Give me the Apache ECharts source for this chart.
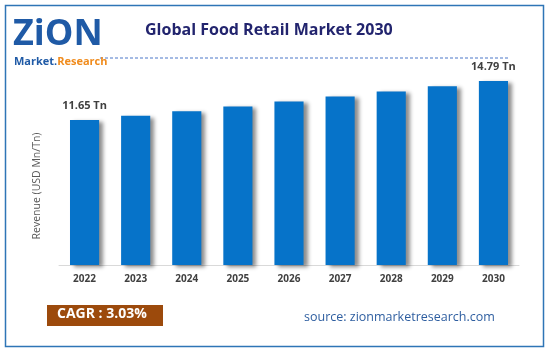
<!DOCTYPE html>
<html><head><meta charset="utf-8">
<script src="https://cdn.jsdelivr.net/npm/echarts@6/dist/echarts.min.js"></script>
<style>html,body{margin:0;padding:0;background:#fff}#c{width:551px;height:354px}</style>
</head><body><div id="c"></div>
<script>
const years = ['2022','2023','2024','2025','2026','2027','2028','2029','2030'];
const revenue = [11.65, 12.0, 12.37, 12.75, 13.15, 13.55, 13.95, 14.37, 14.79];
const labelTexts = {0: '11.65 Tn', 8: '14.79 Tn'};
const titleText = 'Global Food Retail Market 2030';
const yAxisTitle = 'Revenue (USD Mn/Tn)';
const cagrText = 'CAGR : 3.03%';
const sourceText = 'source: zionmarketresearch.com';

const chart = echarts.init(document.getElementById('c'), null, {renderer: 'canvas'});
chart.setOption({
  animation: false,
  grid: {left: 59, right: 32, top: 66, bottom: 89},
  xAxis: {
    type: 'category', data: years,
    axisLine: {lineStyle: {color: '#d9d9d9', width: 1}},
    axisTick: {show: false},
    axisLabel: {color: '#404040', fontFamily: 'Open Sans', fontWeight: 'bold', fontSize: 10, margin: 9}
  },
  yAxis: {
    type: 'value', min: 0, max: 16,
    axisLine: {show: false}, axisTick: {show: false}, axisLabel: {show: false},
    splitLine: {show: false}
  },
  series: [{
    type: 'bar', data: revenue, barWidth: '57%',
    itemStyle: {color: '#0673c9', shadowColor: 'rgba(0,0,0,0.45)', shadowBlur: 4, shadowOffsetX: 4, shadowOffsetY: 2},
    label: {
      show: true, position: 'top', distance: 9,
      color: '#404040', fontFamily: 'Open Sans', fontWeight: 'bold', fontSize: 11,
      formatter: p => labelTexts[p.dataIndex] || ''
    }
  }],
  graphic: [
    {type: 'rect', shape: {x: 5.5, y: 5.5, width: 538, height: 341}, style: {fill: 'none', stroke: '#2e75b6', lineWidth: 1.5}, silent: true},
    {type: 'text', left: 145, top: 22, style: {text: titleText, fill: '#22246e', font: 'bold 16px "Open Sans"'}},
    {type: 'line', shape: {x1: 100, y1: 58, x2: 509, y2: 58}, style: {stroke: '#4a76c8', lineWidth: 1, lineDash: [3, 2]}},
    {type: 'text', left: 13, top: 17, style: {text: 'ZiON', fill: '#1f5aa6', font: 'bold 36px "Open Sans"'}},
    {type: 'text', left: 14, top: 56, style: {rich: {
        a: {fill: '#1f5aa6', font: 'bold 11px "Open Sans"'},
        b: {fill: '#f08c1e', font: 'bold 11px "Open Sans"'}
      }, text: '{a|Market.}{b|Research}'}},
    {type: 'text', x: 37, y: 186, rotation: Math.PI / 2,
      style: {text: yAxisTitle, fill: '#595959', font: '10.5px "Open Sans"', align: 'center', verticalAlign: 'middle'}},
    {type: 'rect', shape: {x: 47, y: 305, width: 116, height: 21}, style: {fill: '#9c4a0c'}},
    {type: 'text', left: 57, top: 307, style: {text: cagrText, fill: '#ffffff', font: 'bold 14px "Open Sans"'}},
    {type: 'text', left: 304, top: 311, style: {text: sourceText, fill: '#2e5ea0', font: '12.5px "Open Sans"'}}
  ]
});
</script></body></html>
